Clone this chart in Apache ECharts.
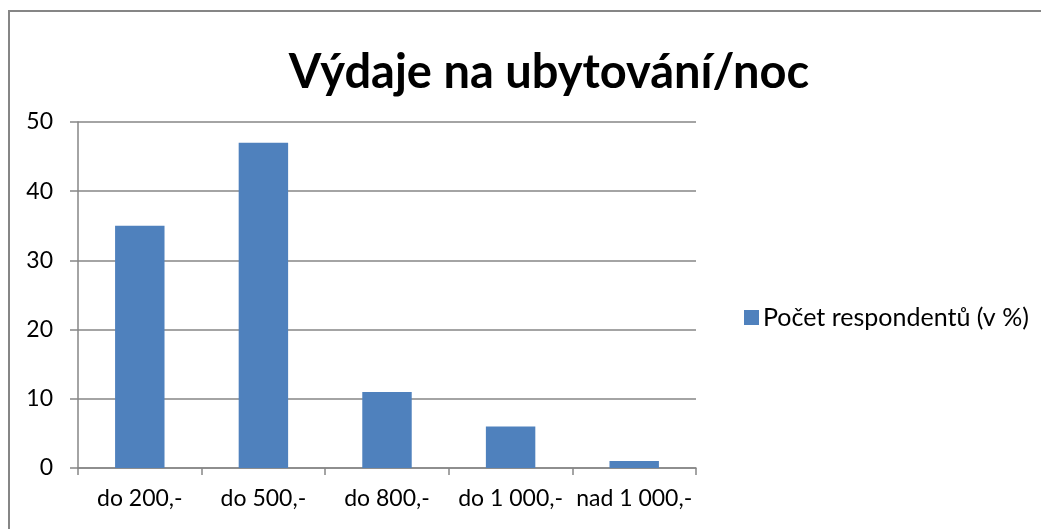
<!DOCTYPE html>
<html>
<head>
<meta charset="utf-8">
<script src="https://cdn.jsdelivr.net/npm/echarts@6/dist/echarts.min.js"></script>
<style>
  html, body { margin: 0; padding: 0; background: #fff; }
  #main { width: 1041px; height: 529px; }
</style>
</head>
<body>
<div id="main"></div>
<script>
// data
const categories = ['do 200,-', 'do 500,-', 'do 800,-', 'do 1 000,-', 'nad 1 000,-']
const values = [35, 47, 11, 6, 1]
const seriesName = 'Počet respondentů (v %)'
const titleText = 'Výdaje na ubytování/noc'

const chart = echarts.init(document.getElementById('main'))
const font = 'Lato, "Open Sans", sans-serif'
const gray = '#868686'

chart.setOption({
  backgroundColor: '#ffffff',
  animation: false,
  title: {
    text: titleText,
    left: 544,
    top: 44,
    textAlign: 'center',
    textStyle: { fontFamily: font, fontSize: 47, fontWeight: 'bold', color: '#000' }
  },
  graphic: [{
    type: 'rect',
    shape: { x: 9, y: 11, width: 1100, height: 600 },
    style: { fill: 'none', stroke: gray, lineWidth: 2 },
    z: -1
  }],
  legend: {
    left: 739,
    top: 300,
    itemWidth: 15,
    itemHeight: 15,
    itemGap: 6,
    icon: 'rect',
    textStyle: { fontFamily: font, fontSize: 25, color: '#000', padding: [0, 0, 0, -1] },
    data: [seriesName]
  },
  grid: { left: 78, right: 345, top: 122, bottom: 61, containLabel: false },
  xAxis: {
    type: 'category',
    data: categories,
    boundaryGap: true,
    axisLine: { lineStyle: { color: gray, width: 1.5 } },
    axisTick: { show: true, alignWithLabel: false, length: 7, lineStyle: { color: gray, width: 1.5 } },
    axisLabel: { fontFamily: font, fontSize: 23, color: '#000', margin: 19, interval: 0 }
  },
  yAxis: {
    type: 'value',
    min: 0,
    max: 50,
    interval: 10,
    axisLine: { show: true, lineStyle: { color: gray, width: 1.5 } },
    axisTick: { show: true, length: 8, inside: false, lineStyle: { color: gray, width: 1.5 } },
    splitLine: { lineStyle: { color: gray, width: 1.5 } },
    axisLabel: { fontFamily: font, fontSize: 23, color: '#000', margin: 25 }
  },
  series: [{
    name: seriesName,
    type: 'bar',
    data: values,
    barWidth: '40%',
    itemStyle: { color: '#4F81BD' }
  }]
})
</script>
</body>
</html>
